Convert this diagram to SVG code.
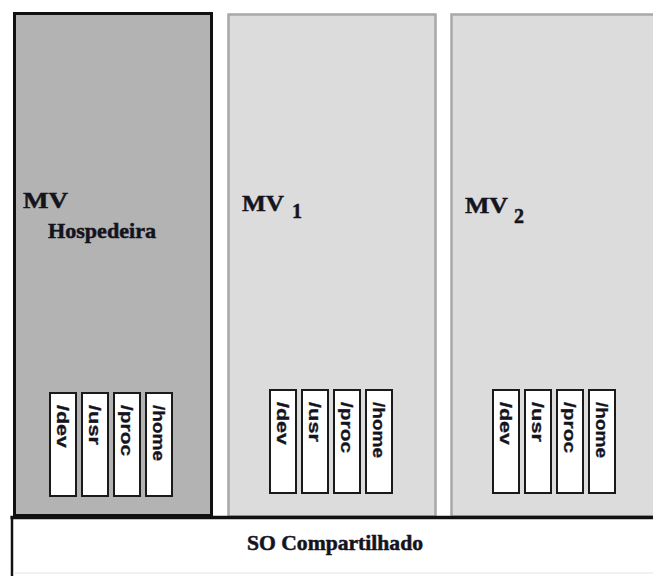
<svg xmlns="http://www.w3.org/2000/svg" width="653" height="576" viewBox="0 0 653 576">
  <style>
    .title { font-family: "Liberation Serif", "Times New Roman", serif; font-weight: bold; fill: #14141e; stroke: #14141e; stroke-width: 0.5; }
    .dir { font-family: "Liberation Sans", Arial, sans-serif; font-weight: bold; font-size: 17px; fill: #14141e; stroke: #14141e; stroke-width: 0.3; }
    .dirbox { fill: #ffffff; stroke: #1a1a1a; stroke-width: 2; }
    .guest { fill: #dcdcdc; stroke: #a8a8a8; stroke-width: 2.5; }
  </style>
  <defs>
    <!-- directory column: four vertical labelled slots -->
    <g id="dirs">
      <rect class="dirbox" x="0" y="0" width="26" height="103"/>
      <rect class="dirbox" x="32" y="0" width="26" height="103"/>
      <rect class="dirbox" x="64" y="0" width="26" height="103"/>
      <rect class="dirbox" x="96" y="0" width="26" height="103"/>
      <text class="dir" transform="translate(7,12) rotate(90)" textLength="43" lengthAdjust="spacingAndGlyphs">/dev</text>
      <text class="dir" transform="translate(39,12) rotate(90)" textLength="40" lengthAdjust="spacingAndGlyphs">/usr</text>
      <text class="dir" transform="translate(71,12) rotate(90)" textLength="51" lengthAdjust="spacingAndGlyphs">/proc</text>
      <text class="dir" transform="translate(103,12) rotate(90)" textLength="56" lengthAdjust="spacingAndGlyphs">/home</text>
    </g>
  </defs>

  <rect x="0" y="0" width="653" height="576" fill="#ffffff"/>

  <g id="mv-hospedeira">
    <rect x="14.5" y="13.5" width="197" height="502" fill="#b3b3b3" stroke="#111" stroke-width="3"/>
    <text class="title" x="23" y="208" font-size="24" textLength="45" lengthAdjust="spacingAndGlyphs">MV</text>
    <text class="title" x="48" y="238" font-size="21" textLength="108" lengthAdjust="spacingAndGlyphs">Hospedeira</text>
    <use href="#dirs" x="50" y="393"/>
  </g>

  <g id="mv1">
    <rect class="guest" x="228.5" y="14.5" width="207" height="502"/>
    <text class="title" x="242" y="211" font-size="24" textLength="42" lengthAdjust="spacingAndGlyphs">MV</text>
    <text class="title" x="292" y="218" font-size="20">1</text>
    <use href="#dirs" x="270" y="390"/>
  </g>

  <g id="mv2">
    <rect class="guest" x="451.5" y="14.5" width="230" height="502"/>
    <text class="title" x="465" y="213" font-size="24" textLength="43" lengthAdjust="spacingAndGlyphs">MV</text>
    <text class="title" x="514" y="223" font-size="20">2</text>
    <use href="#dirs" x="493" y="390"/>
  </g>

  <g id="so-compartilhado">
    <rect x="12" y="517" width="660" height="56" fill="#ffffff"/>
    <line x1="10.5" y1="517.5" x2="653" y2="517.5" stroke="#111" stroke-width="3.5"/>
    <line x1="12" y1="516" x2="12" y2="576" stroke="#111" stroke-width="2.5"/>
    <line x1="13" y1="573" x2="653" y2="573" stroke="#e4e4e4" stroke-width="1"/>
    <text class="title" x="247" y="550" font-size="21" textLength="176" lengthAdjust="spacingAndGlyphs">SO Compartilhado</text>
  </g>

  <g id="connectors"/>
</svg>
